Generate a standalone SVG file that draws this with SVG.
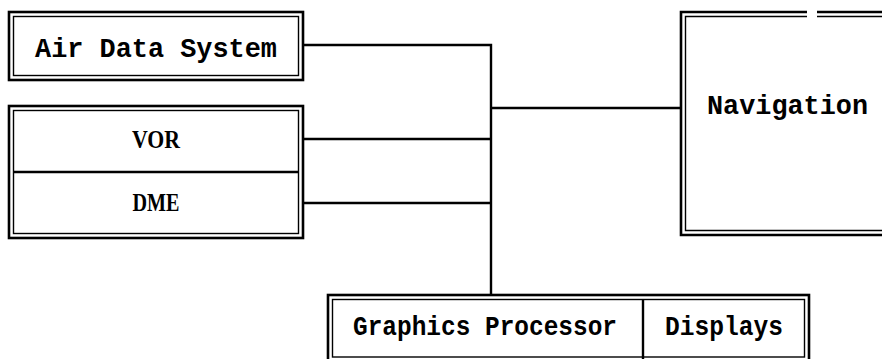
<svg xmlns="http://www.w3.org/2000/svg" width="882" height="359" viewBox="0 0 882 359">
<style>
.o{fill:none;stroke:#000;stroke-width:2.6}
.i{fill:none;stroke:#000;stroke-width:1.4}
.c{fill:none;stroke:#000;stroke-width:2.4}
.m{font-family:"Liberation Mono","Courier New",monospace;font-weight:bold;font-size:28px;fill:#000}
.s{font-family:"Liberation Serif","Times New Roman",serif;font-weight:bold;font-size:25px;fill:#000;text-anchor:middle}
</style>
<rect width="882" height="359" fill="#fff"/>
<g id="connectors">
<polyline class="c" points="303,45 491,45 491,296"/>
<line class="c" x1="491" y1="108" x2="682" y2="108"/>
<line class="c" x1="303" y1="139" x2="491" y2="139"/>
<line class="c" x1="303" y1="203" x2="491" y2="203"/>
</g>
<g id="air-data-system">
<rect class="o" x="9" y="12" width="294" height="68"/>
<rect class="i" x="13.5" y="16.5" width="285" height="59"/>
<text class="m" x="35" y="57" textLength="242" lengthAdjust="spacingAndGlyphs">Air Data System</text>
</g>
<g id="vor-dme">
<rect class="o" x="9" y="106" width="294" height="132"/>
<rect class="i" x="13.5" y="110.5" width="285" height="123"/>
<line class="c" x1="13.5" y1="172" x2="298.5" y2="172"/>
<text class="s" x="156" y="148" textLength="48" lengthAdjust="spacingAndGlyphs">VOR</text>
<text class="s" x="156" y="211" textLength="47" lengthAdjust="spacingAndGlyphs">DME</text>
</g>
<g id="navigation">
<path class="o" d="M807,12 H681 V235 H884 M817,12 H884"/>
<path class="i" d="M807,16.5 H685.5 V230.5 H884 M817,16.5 H884"/>
<text class="m" x="707" y="114" textLength="161" lengthAdjust="spacingAndGlyphs">Navigation</text>
</g>
<g id="graphics-processor">
<rect class="o" x="328" y="295" width="481" height="68"/>
<rect class="i" x="332.5" y="299.5" width="472" height="57.5"/>
<line class="c" x1="643" y1="299.5" x2="643" y2="359"/>
<text class="m" x="353" y="335" textLength="264" lengthAdjust="spacingAndGlyphs">Graphics Processor</text>
</g>
<g id="displays">
<text class="m" x="665" y="335" textLength="118" lengthAdjust="spacingAndGlyphs">Displays</text>
</g>
</svg>
